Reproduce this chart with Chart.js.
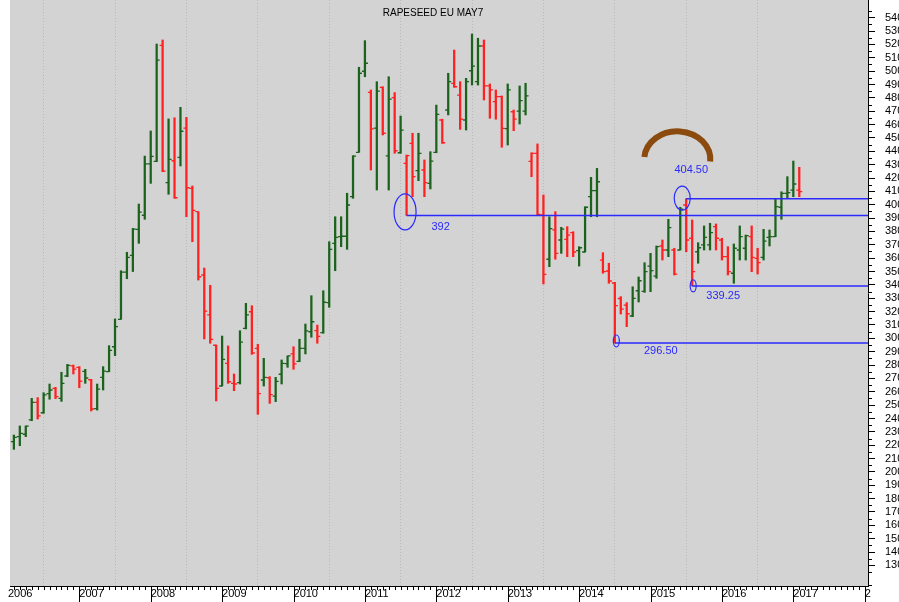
<!DOCTYPE html>
<html>
<head>
<meta charset="utf-8">
<script src="https://cdn.jsdelivr.net/npm/chart.js@4.4.0/dist/chart.umd.min.js"></script>
<style>
  html, body { margin: 0; padding: 0; background: #fff; }
</style>
</head>
<body>
<canvas id="myChart" width="899" height="602"></canvas>
<script>
// monthly OHLC, x value = months counted from Jan 2006 (first bar is Feb 2006)
const firstMonth = 1;
const opens = [
  222.6, 226.4, 228.2, 238.9, 252.1, 244.3, 258.6, 262.6, 255.1, 271.8, 279.3, 278.3,
  275.3, 269.0, 247.3, 270.8, 275.0, 293.7, 314.2, 349.6, 362.1, 381.6, 392.1, 430.5,
  432.5, 519.3, 416.5, 432.9, 435.5, 457.4, 412.3, 394.8, 347.4, 317.5, 294.8, 264.3,
  281.3, 266.3, 266.8, 307.5, 319.9, 292.5, 268.8, 270.5, 256.8, 273.1, 281.0, 288.3,
  282.8, 292.5, 304.9, 305.7, 304.2, 326.7, 371.1, 376.1, 376.4, 406.0, 439.2, 499.9,
  484.1, 457.4, 487.9, 436.5, 480.1, 438.9, 431.0, 445.9, 425.5, 426.0, 416.0, 439.2,
  463.4, 470.9, 490.9, 482.1, 463.4, 500.3, 492.1, 518.8, 488.9, 477.1, 480.9, 456.9,
  469.6, 470.1, 470.1, 432.5, 438.5, 392.3, 359.2, 381.1, 373.6, 374.1, 379.1, 365.6,
  364.6, 406.0, 410.5, 358.6, 350.4, 341.4, 329.8, 324.9, 316.7, 335.6, 335.2, 354.1,
  346.6, 369.1, 366.1, 366.1, 366.1, 399.8, 374.9, 364.8, 369.9, 369.9, 383.6, 373.6,
  361.1, 348.7, 366.1, 367.4, 376.1, 359.9, 360.6, 375.6, 376.1, 398.1, 408.5, 411.0,
  411.0
];
const highs = [
  227.6, 234.4, 234.4, 255.1, 255.6, 259.3, 265.8, 263.3, 274.6, 280.5, 280.0, 278.8,
  276.8, 269.3, 265.8, 278.8, 294.5, 314.5, 350.6, 364.4, 382.3, 400.5, 436.4, 455.2,
  520.3, 523.3, 464.2, 465.1, 472.9, 465.4, 414.0, 394.8, 352.6, 339.7, 295.0, 301.7,
  294.3, 273.3, 305.7, 326.2, 324.4, 295.5, 285.0, 271.3, 270.8, 283.8, 286.8, 293.7,
  299.3, 310.7, 331.9, 309.9, 335.6, 372.3, 391.0, 391.0, 408.6, 436.7, 502.9, 522.8,
  485.9, 492.1, 488.3, 495.8, 483.9, 466.4, 437.2, 453.5, 453.5, 433.5, 439.7, 474.6,
  464.0, 498.4, 515.8, 492.1, 494.6, 527.8, 524.6, 523.3, 490.4, 485.9, 481.4, 490.4,
  470.9, 488.9, 490.9, 438.9, 445.5, 407.3, 391.0, 394.8, 383.1, 383.6, 379.8, 368.6,
  398.5, 420.5, 427.2, 364.1, 356.2, 341.9, 331.2, 326.7, 338.6, 345.9, 356.6, 363.6,
  369.1, 373.6, 389.1, 367.4, 398.1, 404.5, 388.6, 371.6, 384.1, 386.1, 385.6, 374.9,
  368.6, 370.6, 384.1, 377.3, 384.1, 367.4, 381.6, 381.1, 404.1, 409.7, 421.0, 432.7,
  428.0
];
const lows = [
  216.9, 219.6, 226.4, 238.3, 239.6, 243.9, 254.4, 254.8, 252.8, 271.3, 273.3, 263.0,
  266.3, 245.6, 246.3, 261.3, 275.0, 287.0, 314.2, 344.6, 350.0, 371.1, 389.1, 416.0,
  432.2, 424.7, 407.8, 404.8, 429.0, 391.0, 372.3, 343.6, 299.5, 296.3, 253.1, 264.3,
  266.3, 260.8, 265.8, 307.0, 288.0, 243.1, 264.3, 251.3, 252.6, 265.8, 278.3, 276.8,
  282.5, 288.3, 300.8, 296.3, 303.8, 323.2, 350.6, 368.6, 366.6, 404.8, 439.2, 495.8,
  426.0, 411.0, 452.2, 411.0, 438.5, 438.5, 392.0, 406.0, 418.0, 406.0, 411.8, 438.9,
  445.9, 467.2, 487.9, 456.4, 455.9, 489.6, 489.6, 478.4, 464.7, 464.0, 443.0, 444.7,
  455.4, 460.4, 467.2, 421.0, 392.3, 340.7, 353.6, 359.2, 363.6, 361.1, 361.1, 354.1,
  364.6, 391.0, 391.0, 348.7, 341.2, 296.5, 318.2, 308.7, 316.2, 327.2, 334.4, 334.9,
  344.9, 358.6, 361.1, 347.4, 366.1, 364.8, 339.25, 356.2, 366.1, 366.1, 366.1, 358.6,
  347.4, 341.2, 358.6, 358.6, 349.9, 348.1, 358.6, 369.1, 376.1, 389.1, 404.8, 406.0,
  406.0
];
const closes = [
  225.9, 228.9, 234.2, 252.1, 241.9, 257.6, 261.3, 256.3, 266.3, 279.8, 277.0, 268.0,
  270.3, 247.1, 262.0, 275.5, 291.0, 308.7, 349.6, 360.6, 381.8, 394.5, 430.5, 436.2,
  508.3, 425.2, 434.0, 405.2, 455.0, 412.7, 395.7, 346.1, 320.4, 299.2, 262.6, 284.3,
  267.5, 265.8, 297.2, 317.5, 289.0, 258.6, 270.8, 257.8, 267.8, 281.3, 286.8, 280.8,
  292.5, 305.5, 312.4, 301.5, 327.0, 366.6, 375.6, 376.4, 399.8, 436.4, 498.4, 505.9,
  456.7, 485.1, 453.5, 479.1, 440.4, 455.9, 436.8, 421.0, 438.5, 416.5, 432.7, 467.7,
  446.4, 492.1, 488.3, 464.0, 492.1, 503.8, 518.8, 488.9, 485.9, 480.9, 457.2, 485.9,
  464.0, 477.9, 481.4, 438.5, 392.8, 347.9, 382.1, 363.6, 381.8, 377.3, 364.6, 367.8,
  398.1, 410.5, 417.2, 349.9, 342.9, 324.4, 321.9, 318.4, 329.9, 343.1, 349.9, 350.6,
  368.6, 366.1, 382.8, 348.1, 396.6, 373.6, 349.9, 367.8, 375.6, 379.1, 374.9, 361.1,
  349.9, 367.4, 376.1, 376.9, 360.6, 356.6, 372.8, 376.1, 398.5, 408.5, 409.0, 415.5,
  409.8
];

const yearLabels = ['2006', '2007', '2008', '2009', '2010', '2011', '2012',
                    '2013', '2014', '2015', '2016', '2017', '2'];

// support / resistance levels drawn in blue
const levelPrices = [392, 404.5, 339.25, 296.5];
const levelMonths = [67, 114, 115, 102];
const levelTexts = ['392', '404.50', '339.25', '296.50'];

const titleText = 'RAPESEED EU MAY7';

const green = '#1b621d';
const red = '#ff2020';
const blue = '#2a2aff';

// bar colour follows close against previous close
const barColors = closes.map((c, i) => (i === 0 || c >= closes[i - 1]) ? green : red);
const ranges = lows.map((l, i) => ({ x: firstMonth + i, y: [l, highs[i]] }));

const fontFamily = "'Liberation Sans', Arial, sans-serif";

const frame = {
    id: 'frame',
    beforeDraw(chart) {
        const { ctx, chartArea: a } = chart;
        ctx.save();
        ctx.fillStyle = '#d3d3d3';
        ctx.fillRect(a.left, a.top, a.right - a.left, a.bottom - a.top);
        ctx.restore();
    },
    afterDraw(chart) {
        const { ctx, chartArea: a, scales: { x, y } } = chart;
        ctx.save();
        ctx.strokeStyle = '#000';
        ctx.lineWidth = 1;
        ctx.beginPath();
        // month ticks, years are longer
        for (let m = Math.ceil(x.min); m <= x.max; m++) {
            const px = Math.round(x.getPixelForValue(m)) + 0.5;
            ctx.moveTo(px, a.bottom);
            ctx.lineTo(px, a.bottom + (m % 12 === 0 ? 16 : 4));
        }
        // minor price ticks every 5
        for (let v = Math.ceil(y.min / 5) * 5; v <= y.max; v += 5) {
            if (v % 10 === 0) continue;
            const py = Math.round(y.getPixelForValue(v)) + 0.5;
            ctx.moveTo(a.right, py);
            ctx.lineTo(a.right + 4, py);
        }
        ctx.stroke();

        ctx.fillStyle = '#000';
        ctx.font = '10px ' + fontFamily;
        ctx.textAlign = 'center';
        ctx.textBaseline = 'alphabetic';
        ctx.fillText(titleText, (a.left + a.right) / 2 - 6, 16);
        ctx.restore();
    }
};

const ohlcTicks = {
    id: 'ohlcTicks',
    afterDatasetsDraw(chart) {
        const { ctx, scales: { x, y } } = chart;
        ctx.save();
        ctx.lineWidth = 1.3;
        opens.forEach((o, i) => {
            const px = x.getPixelForValue(firstMonth + i);
            const po = y.getPixelForValue(o);
            const pc = y.getPixelForValue(closes[i]);
            ctx.strokeStyle = barColors[i];
            ctx.beginPath();
            ctx.moveTo(px - 3, po);
            ctx.lineTo(px, po);
            ctx.moveTo(px, pc);
            ctx.lineTo(px + 3, pc);
            ctx.stroke();
        });
        ctx.restore();
    }
};

const notes = {
    id: 'notes',
    afterDatasetsDraw(chart) {
        const { ctx, chartArea: a, scales: { x, y } } = chart;
        // label offsets / circle sizes in pixels, per level
        const textOff = [[34, 12], [5, -29], [31, 10], [46, 8]];
        const rings = [[-1.5, -3.5, 11, 18], [-4, -0.5, 8, 12], [1, 0, 3, 6], [1.5, -2, 3, 6]];
        ctx.save();
        ctx.strokeStyle = blue;
        ctx.fillStyle = blue;
        ctx.font = '11px ' + fontFamily;
        ctx.textAlign = 'center';
        ctx.textBaseline = 'middle';
        levelPrices.forEach((p, i) => {
            const px = x.getPixelForValue(levelMonths[i]);
            const py = y.getPixelForValue(p);
            ctx.lineWidth = 1.5;
            ctx.beginPath();
            ctx.moveTo(px, py);
            ctx.lineTo(a.right, py);
            ctx.stroke();
            const r = rings[i];
            ctx.lineWidth = 1.2;
            ctx.beginPath();
            ctx.ellipse(px + r[0], py + r[1], r[2], r[3], 0, 0, Math.PI * 2);
            ctx.stroke();
            ctx.fillText(levelTexts[i], px + textOff[i][0], py + textOff[i][1]);
        });
        // brown arch above the 2015 top
        const cx = x.getPixelForValue(112.5);
        const cy = y.getPixelForValue(434);
        ctx.strokeStyle = '#8b4a0e';
        ctx.lineWidth = 6;
        ctx.beginPath();
        ctx.ellipse(cx, cy, 33, 28, 0, Math.PI + 0.08, Math.PI * 2 + 0.08);
        ctx.stroke();
        ctx.restore();
    }
};

const ctx = document.getElementById('myChart').getContext('2d');
new Chart(ctx, {
    type: 'bar',
    data: {
        datasets: [{
            data: ranges,
            backgroundColor: barColors,
            borderWidth: 0,
            barThickness: 1.6
        }]
    },
    options: {
        responsive: false,
        animation: false,
        devicePixelRatio: 1,
        layout: { padding: { left: 10, top: 0, right: 0, bottom: 0 } },
        plugins: {
            legend: { display: false },
            tooltip: { enabled: false }
        },
        scales: {
            x: {
                type: 'linear',
                min: 0.35,
                max: 144.55,
                offset: false,
                afterBuildTicks(scale) {
                    scale.ticks = yearLabels.map((t, i) => ({ value: i * 12 }));
                },
                afterFit(scale) {
                    scale.height = 16;
                    scale.paddingLeft = 0;
                    scale.paddingRight = 0;
                },
                grid: {
                    drawTicks: false,
                    color: ctx => (ctx.tick && ctx.tick.value > 0 && ctx.tick.value < 144) ? '#b8b8b8' : 'rgba(0,0,0,0)',
                    lineWidth: 1
                },
                border: { display: true, color: '#000', width: 1, dash: [1, 2] },
                ticks: {
                    autoSkip: false,
                    maxRotation: 0,
                    align: 'start',
                    padding: 1,
                    color: '#000',
                    font: { family: fontFamily, size: 11 },
                    callback: (v) => yearLabels[Math.round(v / 12)]
                }
            },
            y: {
                position: 'right',
                min: 114.6,
                max: 553.24,
                afterBuildTicks(scale) {
                    const t = [];
                    for (let v = 130; v <= 540; v += 10) t.push({ value: v });
                    scale.ticks = t;
                },
                afterFit(scale) {
                    scale.width = 31;
                    scale.paddingTop = 0;
                    scale.paddingBottom = 0;
                },
                grid: {
                    drawOnChartArea: false,
                    drawTicks: true,
                    tickLength: 7,
                    tickColor: '#000'
                },
                border: { display: true, color: '#000', width: 1 },
                ticks: {
                    autoSkip: false,
                    padding: 10,
                    color: '#000',
                    font: { family: fontFamily, size: 11 }
                }
            }
        }
    },
    plugins: [frame, ohlcTicks, notes]
});
</script>
</body>
</html>
